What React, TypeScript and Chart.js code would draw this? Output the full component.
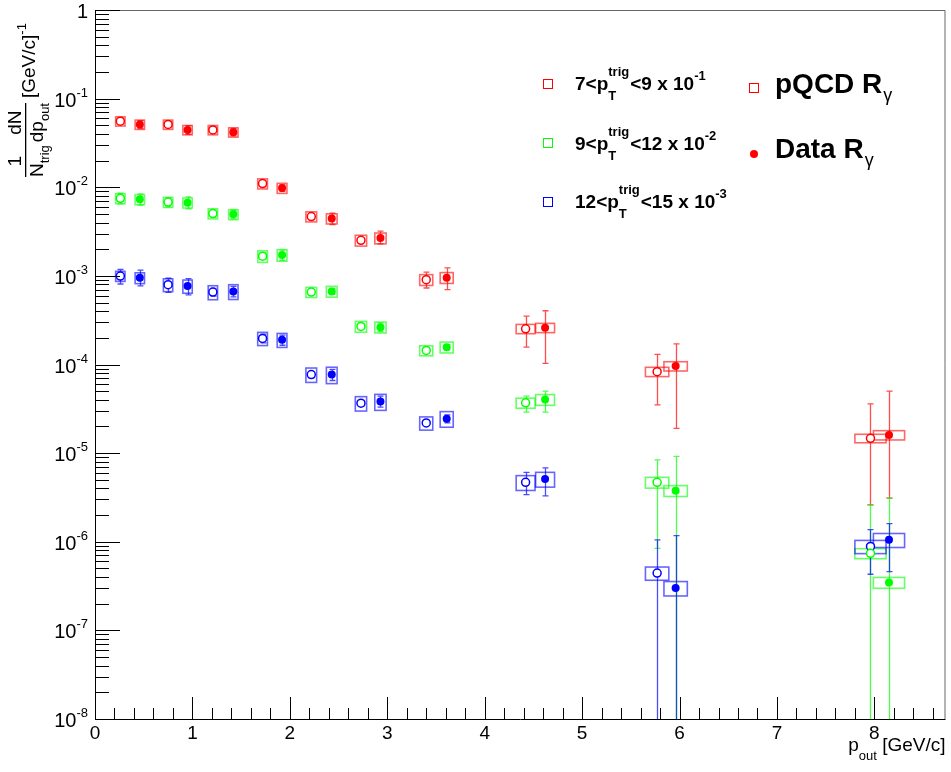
import React, { useEffect, useRef } from 'react';
import { Chart, registerables } from 'chart.js';
Chart.register(...registerables);

const W = 951;
const H = 772;

// x positions (GeV/c)
const xPQCD = [0.26, 0.75, 1.21, 1.72, 2.22, 2.73, 3.40, 4.42, 5.77, 7.96];
const xData = [0.46, 0.95, 1.42, 1.92, 2.43, 2.93, 3.61, 4.62, 5.96, 8.15];
const boxHalfWidth = [0.048, 0.048, 0.048, 0.05, 0.055, 0.058, 0.067, 0.097, 0.12, 0.16];

// 7<pT<9 (x 10^-1)
const redPQCD = [0.0557, 0.0511, 0.0444, 0.0110, 0.00467, 0.00252, 9.06e-4, 2.53e-4, 8.3e-5, 1.47e-5];
const redPQCDHi = [0.060, 0.055, 0.048, 0.0118, 0.0050, 0.00265, 1.10e-3, 3.51e-4, 1.30e-4, 3.6e-5];
const redPQCDLo = [0.0515, 0.0472, 0.0410, 0.0102, 0.00435, 0.0024, 7.3e-4, 1.57e-4, 3.5e-5, 2.6e-6];
const redPQCDSys = [0.12, 0.12, 0.12, 0.13, 0.13, 0.14, 0.14, 0.12, 0.12, 0.11];
const redData = [0.0511, 0.0444, 0.0418, 0.0098, 0.00443, 0.00267, 9.55e-4, 2.6e-4, 9.6e-5, 1.6e-5];
const redDataHi = [0.0565, 0.0495, 0.046, 0.0106, 0.0051, 0.0032, 1.23e-3, 4.04e-4, 1.71e-4, 5.0e-5];
const redDataLo = [0.046, 0.0395, 0.038, 0.009, 0.0038, 0.0023, 7.0e-4, 1.03e-4, 1.9e-5, 3.1e-6];
const redDataSys = [0.12, 0.12, 0.12, 0.13, 0.13, 0.14, 0.14, 0.12, 0.12, 0.12];

// 9<pT<12 (x 10^-2)
const greenPQCD = [7.5e-3, 6.8e-3, 5.05e-3, 1.67e-3, 6.56e-4, 2.69e-4, 1.44e-4, 3.69e-5, 4.68e-6, 7.4e-7];
const greenPQCDHi = [8.6e-3, 7.6e-3, 5.5e-3, 1.8e-3, 6.9e-4, 2.85e-4, 1.52e-4, 4.4e-5, 8.4e-6, 2.6e-6];
const greenPQCDLo = [6.5e-3, 6.0e-3, 4.6e-3, 1.55e-3, 6.2e-4, 2.55e-4, 1.36e-4, 2.9e-5, 8.4e-7, 0];
const greenPQCDSys = [0.13, 0.13, 0.13, 0.15, 0.13, 0.14, 0.13, 0.13, 0.14, 0.13];
const greenData = [7.3e-3, 6.7e-3, 4.95e-3, 1.72e-3, 6.68e-4, 2.64e-4, 1.57e-4, 4.02e-5, 3.77e-6, 3.47e-7];
const greenDataHi = [8.4e-3, 7.8e-3, 5.5e-3, 1.95e-3, 7.2e-4, 2.95e-4, 1.68e-4, 5.0e-5, 9.2e-6, 3.1e-6];
const greenDataLo = [6.3e-3, 5.7e-3, 4.4e-3, 1.5e-3, 6.2e-4, 2.35e-4, 1.46e-4, 2.9e-5, 0, 0];
const greenDataSys = [0.13, 0.13, 0.13, 0.15, 0.14, 0.14, 0.14, 0.14, 0.14, 0.14];

// 12<pT<15 (x 10^-3)
const bluePQCD = [9.95e-4, 7.95e-4, 6.56e-4, 1.97e-4, 7.7e-5, 3.66e-5, 2.19e-5, 4.68e-6, 4.43e-7, 8.85e-7];
const bluePQCDHi = [1.18e-3, 9.4e-4, 7.2e-4, 2.2e-4, 8.3e-5, 3.9e-5, 2.3e-5, 6.07e-6, 1.05e-6, 1.37e-6];
const bluePQCDLo = [8.1e-4, 6.5e-4, 5.9e-4, 1.75e-4, 7.1e-5, 3.4e-5, 2.08e-5, 3.4e-6, 0, 4.3e-7];
const bluePQCDSys = [0.13, 0.165, 0.18, 0.17, 0.185, 0.185, 0.17, 0.19, 0.17, 0.17];
const blueData = [9.5e-4, 7.67e-4, 6.68e-4, 1.9e-4, 7.7e-5, 3.82e-5, 2.45e-5, 5.1e-6, 3.0e-7, 1.05e-6];
const blueDataHi = [1.16e-3, 9.3e-4, 7.6e-4, 2.15e-4, 8.8e-5, 4.4e-5, 2.7e-5, 6.8e-6, 1.17e-6, 1.6e-6];
const blueDataLo = [7.7e-4, 6.1e-4, 5.8e-4, 1.65e-4, 6.6e-5, 3.3e-5, 2.2e-5, 3.3e-6, 0, 4.6e-7];
const blueDataSys = [0.14, 0.17, 0.19, 0.18, 0.21, 0.205, 0.2, 0.19, 0.185, 0.18];

// legend labels
const binLow = ['7', '9', '12'];
const binHigh = ['9', '12', '15'];
const binScale = ['-1', '-2', '-3'];
const seriesColors = ['255,0,0', '0,255,0', '0,0,255'];

// axes
const xMin = 0;
const xMax = 8.73;
const yMin = 1e-8;
const yMax = 1;
const xMajorTicks = [0, 1, 2, 3, 4, 5, 6, 7, 8];
const yDecades = [0, -1, -2, -3, -4, -5, -6, -7, -8];

const FONT = '"Liberation Sans", Arial, Helvetica, sans-serif';

type Series = { color: string; open: boolean; x: number[]; y: number[]; hi: number[]; lo: number[]; sys: number[] };

const series: Series[] = [
  { color: seriesColors[0], open: true, x: xPQCD, y: redPQCD, hi: redPQCDHi, lo: redPQCDLo, sys: redPQCDSys },
  { color: seriesColors[0], open: false, x: xData, y: redData, hi: redDataHi, lo: redDataLo, sys: redDataSys },
  { color: seriesColors[1], open: true, x: xPQCD, y: greenPQCD, hi: greenPQCDHi, lo: greenPQCDLo, sys: greenPQCDSys },
  { color: seriesColors[1], open: false, x: xData, y: greenData, hi: greenDataHi, lo: greenDataLo, sys: greenDataSys },
  { color: seriesColors[2], open: true, x: xPQCD, y: bluePQCD, hi: bluePQCDHi, lo: bluePQCDLo, sys: bluePQCDSys },
  { color: seriesColors[2], open: false, x: xData, y: blueData, hi: blueDataHi, lo: blueDataLo, sys: blueDataSys },
];

type Part = { t?: string; size?: number; bold?: boolean; dy?: number; gap?: number; stack?: Part[] };

function setFont(ctx: CanvasRenderingContext2D, size: number, bold?: boolean) {
  ctx.font = `${bold ? 'bold ' : ''}${size}px ${FONT}`;
}

function drawRich(ctx: CanvasRenderingContext2D, x: number, y: number, parts: Part[]) {
  let cx = x;
  for (const p of parts) {
    cx += p.gap || 0;
    if (p.stack) {
      let w = 0;
      for (const s of p.stack) {
        setFont(ctx, s.size || 16, s.bold);
        ctx.fillText(s.t || '', cx, y + (s.dy || 0));
        w = Math.max(w, ctx.measureText(s.t || '').width);
      }
      cx += w;
    } else {
      setFont(ctx, p.size || 16, p.bold);
      ctx.fillText(p.t || '', cx, y + (p.dy || 0));
      cx += ctx.measureText(p.t || '').width;
    }
  }
  return cx - x;
}

function richWidth(ctx: CanvasRenderingContext2D, parts: Part[]) {
  let w = 0;
  for (const p of parts) {
    w += p.gap || 0;
    if (p.stack) {
      let m = 0;
      for (const s of p.stack) {
        setFont(ctx, s.size || 16, s.bold);
        m = Math.max(m, ctx.measureText(s.t || '').width);
      }
      w += m;
    } else {
      setFont(ctx, p.size || 16, p.bold);
      w += ctx.measureText(p.t || '').width;
    }
  }
  return w;
}

const errorPlugin = {
  id: 'errorBoxes',
  beforeDatasetsDraw(chart: any) {
    const ctx: CanvasRenderingContext2D = chart.ctx;
    const xs = chart.scales.x;
    const ys = chart.scales.y;
    const a = chart.chartArea;
    const py = (v: number) => (v <= ys.min ? ys.bottom : ys.getPixelForValue(v));
    ctx.save();
    ctx.beginPath();
    ctx.rect(a.left, a.top, a.right - a.left, a.bottom - a.top);
    ctx.clip();
    for (const s of series) {
      for (let i = 0; i < s.x.length; i++) {
        const x0 = xs.getPixelForValue(s.x[i] - boxHalfWidth[i]);
        const x1 = xs.getPixelForValue(s.x[i] + boxHalfWidth[i]);
        const y0 = py(s.y[i] * (1 + s.sys[i]));
        const y1 = py(s.y[i] * (1 - s.sys[i]));
        ctx.strokeStyle = `rgba(${s.color},0.6)`;
        ctx.lineWidth = 1.6;
        ctx.strokeRect(x0, y0, x1 - x0, y1 - y0);
      }
    }
    for (const s of series) {
      for (let i = 0; i < s.x.length; i++) {
        const px = Math.round(xs.getPixelForValue(s.x[i])) + 0.5;
        const yh = py(s.hi[i]);
        const yl = py(s.lo[i]);
        ctx.strokeStyle = `rgba(${s.color},0.7)`;
        ctx.lineWidth = 1.3;
        ctx.beginPath();
        ctx.moveTo(px, yh);
        ctx.lineTo(px, yl);
        ctx.moveTo(px - 3, yh);
        ctx.lineTo(px + 3, yh);
        if (s.lo[i] > ys.min) {
          ctx.moveTo(px - 3, yl);
          ctx.lineTo(px + 3, yl);
        }
        ctx.stroke();
      }
    }
    ctx.restore();
  },
};

const decorPlugin = {
  id: 'decor',
  afterDraw(chart: any) {
    const ctx: CanvasRenderingContext2D = chart.ctx;
    const xs = chart.scales.x;
    const ys = chart.scales.y;
    const a = chart.chartArea;
    ctx.save();
    // frame
    ctx.strokeStyle = '#666';
    ctx.lineWidth = 1;
    ctx.beginPath();
    ctx.moveTo(a.left, a.top + 0.5);
    ctx.lineTo(a.right - 0.5, a.top + 0.5);
    ctx.lineTo(a.right - 0.5, a.bottom);
    ctx.stroke();
    // axes
    ctx.strokeStyle = '#000';
    ctx.beginPath();
    ctx.moveTo(a.left + 0.5, a.top);
    ctx.lineTo(a.left + 0.5, a.bottom + 0.5);
    ctx.lineTo(a.right, a.bottom + 0.5);
    ctx.stroke();
    // x ticks
    ctx.beginPath();
    for (let k = 0; k <= Math.floor(xMax * 5 + 1e-6); k++) {
      const v = k / 5;
      const px = Math.round(xs.getPixelForValue(v)) + 0.5;
      const len = k % 5 === 0 ? 22 : 11;
      ctx.moveTo(px, a.bottom);
      ctx.lineTo(px, a.bottom - len);
    }
    // y ticks
    for (const d of yDecades) {
      const py0 = Math.round(ys.getPixelForValue(Math.pow(10, d))) + 0.5;
      ctx.moveTo(a.left, py0);
      ctx.lineTo(a.left + 25, py0);
      if (d > -8) {
        for (let m = 2; m <= 9; m++) {
          const py = Math.round(ys.getPixelForValue(m * Math.pow(10, d - 1))) + 0.5;
          ctx.moveTo(a.left, py);
          ctx.lineTo(a.left + 14, py);
        }
      }
    }
    ctx.stroke();
    // x tick labels
    ctx.fillStyle = '#000';
    ctx.textBaseline = 'alphabetic';
    setFont(ctx, 19);
    ctx.textAlign = 'center';
    for (const v of xMajorTicks) {
      ctx.fillText(String(v), xs.getPixelForValue(v), 739);
    }
    // y tick labels
    for (const d of yDecades) {
      const py = ys.getPixelForValue(Math.pow(10, d));
      const right = a.left - 7;
      if (d === 0) {
        setFont(ctx, 20);
        ctx.textAlign = 'right';
        ctx.fillText('1', right, py + 8);
      } else {
        setFont(ctx, 13);
        ctx.textAlign = 'right';
        const e = String(d);
        ctx.fillText(e, right, py - 2);
        const ew = ctx.measureText(e).width;
        setFont(ctx, 20);
        ctx.fillText('10', right - ew, py + 8);
      }
    }
    ctx.textAlign = 'left';
    // x title
    const xt: Part[] = [
      { t: 'p', size: 19 },
      { t: 'out', size: 13, dy: 9 },
      { t: ' [GeV/c]', size: 19 },
    ];
    const xw = richWidth(ctx, xt);
    drawRich(ctx, a.right - xw, 751, xt);

    // y title (rotated)
    ctx.save();
    ctx.rotate(-Math.PI / 2);
    // in rotated coords: u = -canvasY, v = canvasX
    const startU = -177;
    const den1: Part[] = [{ t: 'N', size: 19 }, { t: 'trig', size: 13, dy: 6 }];
    const den2: Part[] = [{ t: 'dp', size: 19 }, { t: 'out', size: 13, dy: 6 }];
    const w1 = richWidth(ctx, den1);
    const w2 = richWidth(ctx, den2);
    setFont(ctx, 19);
    const n1w = ctx.measureText('1').width;
    const n2w = ctx.measureText('dN').width;
    drawRich(ctx, startU, 43, den1);
    const u2 = startU + w1 + 3;
    drawRich(ctx, u2, 43, den2);
    setFont(ctx, 19);
    ctx.fillText('1', startU + (w1 - n1w) / 2, 21);
    ctx.fillText('dN', u2 + (w2 - n2w) / 2, 21);
    ctx.fillRect(startU, 25, w1 + 3 + w2, 1.3);
    const u3 = u2 + w2 + 5;
    drawRich(ctx, u3, 35, [
      { t: '[GeV/c]', size: 19 },
      { t: '-1', size: 13, dy: -9 },
    ]);
    ctx.restore();

    // legend
    const rowY = [90, 150, 208];
    const rowBox = [84, 143, 202];
    for (let r = 0; r < 3; r++) {
      ctx.strokeStyle = `rgb(${seriesColors[r]})`;
      ctx.lineWidth = 1;
      ctx.strokeRect(543.5, rowBox[r] - 4.5, 9, 9);
      ctx.fillStyle = '#000';
      drawRich(ctx, 575, rowY[r], [
        { t: `${binLow[r]}<p`, size: 19, bold: true },
        { stack: [
          { t: 'trig', size: 13, bold: true, dy: -14 },
          { t: 'T', size: 13, bold: true, dy: 10 },
        ] },
        { t: `<${binHigh[r]} x 10`, size: 19, bold: true, gap: 1 },
        { t: binScale[r], size: 13, bold: true, dy: -10 },
      ]);
    }
    ctx.strokeStyle = 'rgb(255,0,0)';
    ctx.strokeRect(749.5, 83.5, 9, 9);
    ctx.fillStyle = 'rgb(255,0,0)';
    ctx.beginPath();
    ctx.arc(754, 154, 4, 0, Math.PI * 2);
    ctx.fill();
    ctx.fillStyle = '#000';
    drawRich(ctx, 775, 93, [
      { t: 'pQCD R', size: 28, bold: true },
      { t: 'γ', size: 18, dy: 8, gap: 1 },
    ]);
    drawRich(ctx, 775, 158, [
      { t: 'Data R', size: 28, bold: true },
      { t: 'γ', size: 18, dy: 8, gap: 1 },
    ]);
    ctx.restore();
  },
};

export default function App() {
  const ref = useRef<HTMLCanvasElement>(null);
  useEffect(() => {
    const canvas = ref.current;
    if (!canvas) return;
    const datasets = series.map((s) => ({
      data: s.x.map((xv, i) => ({ x: xv, y: s.y[i] })),
      pointStyle: 'circle',
      pointRadius: 4,
      pointHoverRadius: 4,
      backgroundColor: s.open ? '#ffffff' : `rgb(${s.color})`,
      borderColor: `rgb(${s.color})`,
      borderWidth: s.open ? 1.5 : 0,
      showLine: false,
    }));
    const chart = new Chart(canvas, {
      type: 'scatter',
      data: { datasets },
      options: {
        responsive: false,
        animation: false,
        devicePixelRatio: 1,
        layout: { padding: { left: 95, right: 3, top: 10, bottom: 53 } },
        plugins: { legend: { display: false }, tooltip: { enabled: false } },
        events: [],
        scales: {
          x: { type: 'linear', min: xMin, max: xMax, display: false },
          y: { type: 'logarithmic', min: yMin, max: yMax, display: false },
        },
      },
      plugins: [errorPlugin, decorPlugin],
    } as any);
    return () => chart.destroy();
  }, []);
  return (
    <div style={{ position: 'absolute', left: 0, top: 0, width: W, height: H, background: '#fff' }}>
      <canvas ref={ref} width={W} height={H} style={{ display: 'block', width: W, height: H }} />
    </div>
  );
}
